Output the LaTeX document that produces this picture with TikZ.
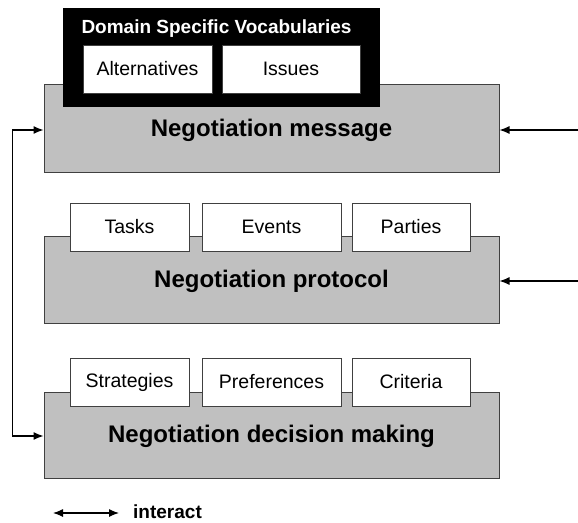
\documentclass[tikz,border=0pt]{standalone}
\usepackage{fontspec}
\setmainfont{Liberation Sans}
\usetikzlibrary{arrows.meta}
\definecolor{boxgray}{HTML}{C0C0C0}
\definecolor{edge}{HTML}{404040}
\begin{document}
\begin{tikzpicture}[x=1pt,y=-1pt,
  >={Latex[length=10pt,width=8pt]},
  layer/.style={draw=edge, line width=1pt, fill=boxgray, minimum width=455pt, inner sep=0pt,
     font=\fontsize{24}{28}\selectfont\bfseries},
  tab/.style={draw=edge, line width=1pt, fill=white, minimum height=48pt, inner sep=0pt,
     font=\fontsize{19.5}{23}\selectfont},
  arr/.style={line width=1.2pt, draw=black}
]
\useasboundingbox (0,0) rectangle (578,522);
% Negotiation message
\node[layer, minimum height=88pt] (msg) at (271.5,128) {};
\node[font=\fontsize{24}{28}\selectfont\bfseries] (msgt) at (271.5,130) {Negotiation message};
\node[fill=black, minimum width=317pt, minimum height=99pt, inner sep=0pt] (dsv) at (221.5,57.5) {};
\node[text=white, font=\fontsize{19}{23}\selectfont\bfseries, inner sep=0pt] (dsvt) at (216.5,29) {Domain Specific Vocabularies};
\node[tab, minimum width=129pt] (alt) at (147.5,69) {Alternatives};
\node[tab, minimum width=138pt] (iss) at (291,69) {Issues};
% Negotiation protocol
\node[layer, minimum height=87pt] (prot) at (271.5,279.5) {};
\node[font=\fontsize{24}{28}\selectfont\bfseries] (prott) at (271.5,281) {Negotiation protocol};
\node[tab, minimum width=119pt] (tasks) at (129.5,227) {Tasks};
\node[tab, minimum width=139pt] (events) at (271.5,227) {Events};
\node[tab, minimum width=118pt] (parties) at (411,227) {Parties};
% Negotiation decision making
\node[layer, minimum height=86pt] (dec) at (271.5,435) {};
\node[font=\fontsize{24}{28}\selectfont\bfseries] (dect) at (271.5,436) {Negotiation decision making};
\node[tab, minimum width=119pt] (strat) at (129.5,382) {Strategies};
\node[tab, minimum width=139pt] (pref) at (271.5,382) {Preferences};
\node[tab, minimum width=118pt] (crit) at (411,382) {Criteria};
% connectors
\draw[arr, <->] ([yshift=-2pt]msg.west) -- ++(-31,0) |- ([yshift=-1pt]dec.west);
\coordinate (rm) at (578,130);
\coordinate (rp) at (578,281);
\draw[arr, ->] (rm) -- (msg.east |- rm);
\draw[arr, ->] (rp) -- (prot.east |- rp);
% legend
\coordinate (la) at (53,513);
\coordinate (lb) at (119,513);
\draw[arr, <->] (la) -- (lb);
\node[anchor=west, font=\fontsize{19}{23}\selectfont\bfseries, inner sep=0pt] (leg) at (133,512) {interact};
\end{tikzpicture}
\end{document}
